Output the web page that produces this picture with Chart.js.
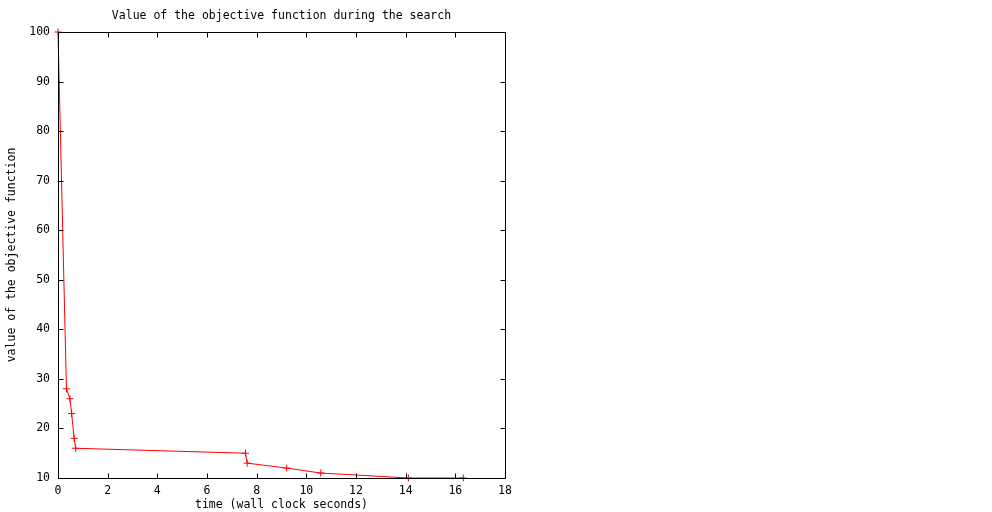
<!DOCTYPE html>
<html>
<head>
<meta charset="utf-8">
<script src="https://cdn.jsdelivr.net/npm/chart.js@4/dist/chart.umd.min.js"></script>
<style>
  html, body { margin: 0; padding: 0; background: #fff; }
  #wrap { width: 992px; height: 512px; position: relative; }
</style>
</head>
<body>
<div id="wrap"><canvas id="objChart"></canvas></div>
<script>
// time in wall clock seconds
var timeValues = [0, 0.34, 0.48, 0.55, 0.65, 0.71, 7.55, 7.62, 9.21, 10.58, 14.11, 16.32];
// value of the objective function
var objValues = [100, 28, 26, 23, 18, 16, 15, 13, 12, 11, 10, 10];
var xTicks = [0, 2, 4, 6, 8, 10, 12, 14, 16, 18];
var yTicks = [10, 20, 30, 40, 50, 60, 70, 80, 90, 100];

var points = timeValues.map(function(t, i) { return {x: t, y: objValues[i]}; });
var monoFont = { family: "'DejaVu Sans Mono', 'Liberation Mono', monospace", size: 11.5, weight: 'normal', lineHeight: '14px' };

// gnuplot-style border with inward ticks on every side
var borderBox = {
    id: 'borderBox',
    afterDatasetsDraw: function(chart) {
        var ctx = chart.ctx, a = chart.chartArea;
        var xs = chart.scales.x, ys = chart.scales.y;
        var l = Math.round(a.left) + 0.5, r = Math.round(a.right) + 0.5;
        var t = Math.round(a.top) + 0.5, b = Math.round(a.bottom) + 0.5;
        ctx.save();
        ctx.strokeStyle = '#000';
        ctx.lineWidth = 1;
        ctx.beginPath();
        ctx.rect(l, t, r - l, b - t);
        xTicks.forEach(function(v) {
            var px = Math.round(xs.getPixelForValue(v)) + 0.5;
            ctx.moveTo(px, b); ctx.lineTo(px, b - 5);
            ctx.moveTo(px, t); ctx.lineTo(px, t + 5);
        });
        yTicks.forEach(function(v) {
            var py = Math.round(ys.getPixelForValue(v)) + 0.5;
            ctx.moveTo(l, py); ctx.lineTo(l + 5, py);
            ctx.moveTo(r, py); ctx.lineTo(r - 5, py);
        });
        ctx.stroke();
        ctx.restore();
    }
};

new Chart("objChart", {
    type: "scatter",
    data: {
        datasets: [{
            data: points,
            showLine: true,
            borderColor: "#ff0000",
            backgroundColor: "#ff0000",
            borderWidth: 1,
            pointStyle: "cross",
            pointRadius: 3.5,
            pointHoverRadius: 3.5,
            pointBorderColor: "#ff0000",
            pointBorderWidth: 1,
            clip: false
        }]
    },
    options: {
        responsive: true,
        maintainAspectRatio: false,
        animation: false,
        layout: { padding: { left: 0, right: 487, top: 0, bottom: 0 } },
        plugins: {
            legend: { display: false },
            tooltip: { enabled: false },
            title: {
                display: true,
                fullSize: false,
                text: "Value of the objective function during the search",
                color: "#000",
                font: monoFont,
                padding: { top: 9, bottom: 9 }
            }
        },
        scales: {
            x: {
                type: "linear",
                min: 0, max: 18,
                afterBuildTicks: function(s) { s.ticks = xTicks.map(function(v) { return {value: v}; }); },
                afterFit: function(s) { s.height = 34; },
                grid: { display: false, drawTicks: false },
                border: { display: false },
                ticks: { color: "#000", font: monoFont, padding: 6, maxRotation: 0 },
                title: { display: true, text: "time (wall clock seconds)", color: "#000", font: monoFont, padding: { top: 0, bottom: 0 } }
            },
            y: {
                type: "linear",
                min: 10, max: 100,
                afterBuildTicks: function(s) { s.ticks = yTicks.map(function(v) { return {value: v}; }); },
                afterFit: function(s) { s.width = 58; },
                grid: { display: false, drawTicks: false },
                border: { display: false },
                ticks: { color: "#000", font: monoFont, padding: 8 },
                title: { display: true, text: "value of the objective function", color: "#000", font: monoFont, padding: { top: 5, bottom: 0 } }
            }
        }
    },
    plugins: [borderBox]
});
</script>
</body>
</html>
